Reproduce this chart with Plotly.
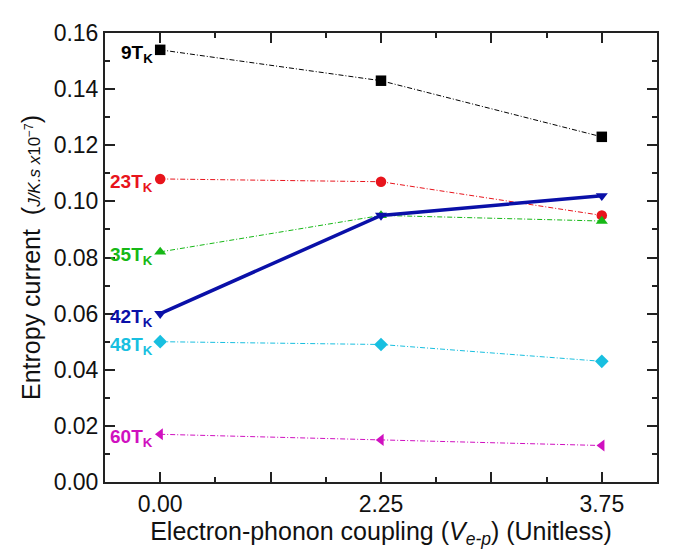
import plotly.graph_objects as go

x_labels = ["0.00", "2.25", "3.75"]
x_pos = [0, 1, 2]

series_names = ["9T<sub>K</sub>", "23T<sub>K</sub>", "35T<sub>K</sub>", "42T<sub>K</sub>", "48T<sub>K</sub>", "60T<sub>K</sub>"]
s9 = [0.154, 0.143, 0.123]
s23 = [0.108, 0.107, 0.095]
s35 = [0.082, 0.095, 0.093]
s42 = [0.060, 0.095, 0.102]
s48 = [0.050, 0.049, 0.043]
s60 = [0.017, 0.015, 0.013]

colors = ["#000000", "#e8141c", "#16b816", "#0a10a8", "#18bfe0", "#d010c0"]
symbols = ["square", "circle", "triangle-up", "triangle-down", "diamond", "triangle-left"]
values = [s9, s23, s35, s42, s48, s60]

FONT = "Liberation Sans, Arial, sans-serif"

fig = go.Figure()
for name, vals, c, sym in zip(series_names, values, colors, symbols):
    thick = name.startswith("42")
    fig.add_trace(go.Scatter(
        x=x_pos, y=vals, mode="lines+markers", name=name,
        line=dict(color=c, width=3.5 if thick else 1, dash="solid" if thick else "5px,2px,1px,2px"),
        marker=dict(symbol=sym, color=c, size=10.5),
        showlegend=False,
    ))
    fig.add_annotation(x=x_pos[0], y=vals[0], xref="x", yref="y", text="<b>" + name + "</b>",
                       showarrow=False, xanchor="right", yanchor="middle", xshift=-5, yshift=-4,
                       font=dict(color=c, size=19, family=FONT))

# page body has an 8px margin; shrink the figure so the plot area lands where the reference has it
fig.update_layout(
    width=675, height=550,
    margin=dict(l=97, r=26, t=12, b=76),
    paper_bgcolor="white", plot_bgcolor="white",
    font=dict(family=FONT, size=23, color="#111"),
)
fig.update_xaxes(
    range=[-0.25, 2.25], tickvals=[0, 0.5, 1, 1.5, 2], ticktext=[x_labels[0], "", x_labels[1], "", x_labels[2]],
    ticks="inside", ticklen=10, tickwidth=1.5, tickcolor="#222",
    minor=dict(dtick=0.25, tick0=0, ticks="inside", ticklen=5, tickwidth=1.5, tickcolor="#222"),
    showline=True, linecolor="#222", linewidth=2, mirror="ticks", showgrid=False, zeroline=False,
    title=dict(text="Electron-phonon coupling (<i>V<sub>e-p</sub></i>) (Unitless)", standoff=2, font=dict(size=25)),
    tickfont=dict(size=23),
)
fig.update_yaxes(
    range=[0, 0.16], dtick=0.02, tickformat=".2f",
    ticks="inside", ticklen=10, tickwidth=1.5, tickcolor="#222",
    minor=dict(dtick=0.01, ticks="inside", ticklen=5, tickwidth=1.5, tickcolor="#222"),
    showline=True, linecolor="#222", linewidth=2, mirror="ticks", showgrid=False, zeroline=False,
    title=dict(text="Entropy current  (<span style='font-size:17px'><i>J/K.s</i> <i>x</i>10<sup>−7</sup></span>)",
               standoff=6, font=dict(size=25)),
    tickfont=dict(size=23),
)

fig.write_html("out.html")
